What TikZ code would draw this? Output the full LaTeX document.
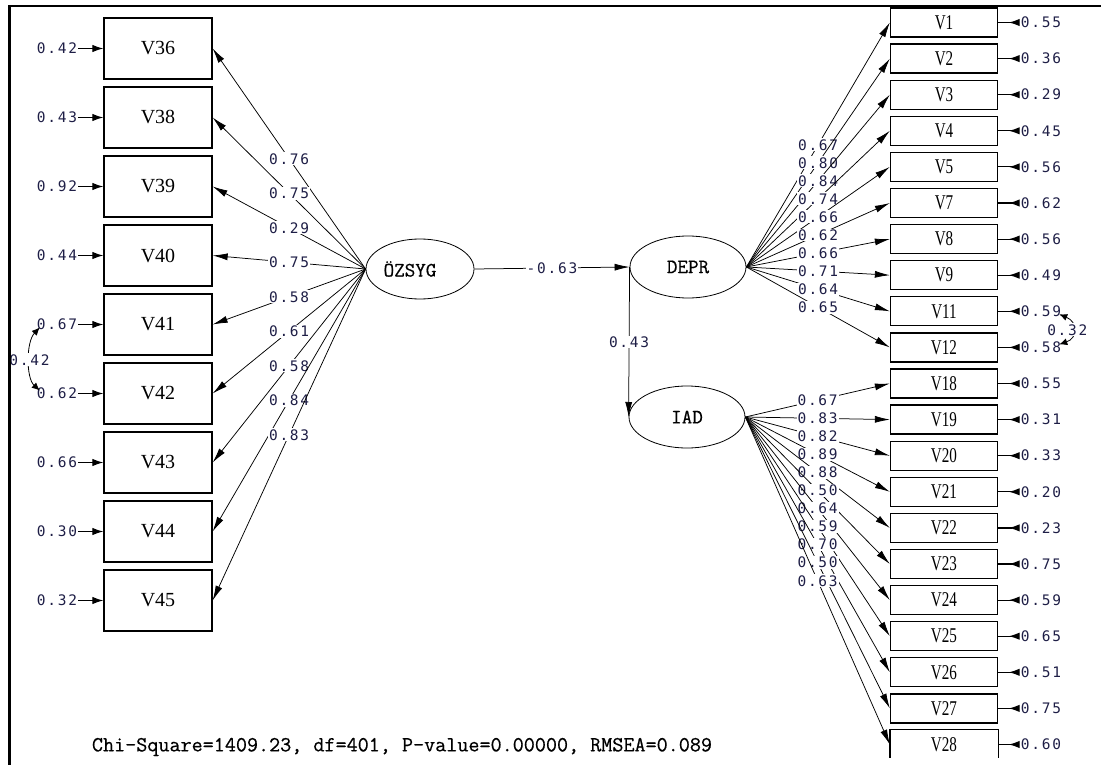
\documentclass[tikz,border=0pt]{standalone}
\usepackage{fontspec}
\setmainfont{Liberation Serif}
\newfontfamily\lisnum[LetterSpace=12]{DejaVu Sans Mono}
\newfontfamily\sermono[FakeBold=0.6]{Latin Modern Mono}
\newfontfamily\condserif[FakeStretch=0.72]{Liberation Serif}
\usetikzlibrary{arrows.meta,shapes.geometric}
\definecolor{numc}{RGB}{30,30,70}
\begin{document}
\begin{tikzpicture}[x=1pt,y=-1pt,
  lbox/.style={draw, line width=1.3pt, minimum width=108pt, minimum height=61pt, inner sep=0pt, font=\fontsize{20}{20}\selectfont},
  rbox/.style={draw, line width=1.3pt, minimum width=107pt, minimum height=29pt, inner sep=0pt, font=\condserif\fontsize{21}{21}\selectfont},
  lat/.style={draw, ellipse, line width=0.8pt, minimum width=108pt, minimum height=60pt, inner sep=0pt, font=\sermono\fontsize{20.5}{20.5}\selectfont},
  num/.style={font=\lisnum\fontsize{14.5}{14.5}\selectfont, text=numc, inner sep=1pt},
  lnum/.style={num, fill=white},
  load/.style={-{Latex[length=15pt,width=7pt]}, line width=0.75pt},
  errarr/.style={-{Latex[length=11pt,width=7.5pt]}, line width=1.2pt},
  errarrr/.style={-{Latex[length=11pt,width=7.5pt,reversed]}, line width=1.2pt},
  cov/.style={{Latex[length=8pt,width=7pt]}-{Latex[length=8pt,width=7pt]}, line width=0.8pt},
]
\useasboundingbox (0,0) rectangle (1101,765);

% latent variables
\node[lat] (OZ) at (420,269) {\hspace*{-20pt}ÖZSYG};
\node[lat, minimum width=116pt, minimum height=62pt] (DEPR) at (688,267) {DEPR};
\node[lat, minimum width=116pt, minimum height=62pt] (IAD) at (687,417) {IAD};

% left indicators
\foreach \n/\y/\e/\l in {36/48.5/0.42/0.76, 38/117.5/0.43/0.75, 39/186.5/0.92/0.29,
  40/255.5/0.44/0.75, 41/324.5/0.67/0.58, 42/393.5/0.62/0.61, 43/462.5/0.66/0.58,
  44/531.5/0.30/0.84, 45/600.5/0.32/0.83}{
  \node[lbox] (L\n) at (158,\y) {V\n};
  \node[num] (eL\n) at (57,\y) {\e};
  \draw[errarr] (eL\n.east) -- (L\n.west);
  \draw[load] (OZ.west) -- node[lnum, pos=0.5] {\l} (L\n.east);
}

% right indicators of DEPR and IAD
\foreach \n/\k/\e/\l/\f in {1/0/0.55/0.67/DEPR, 2/1/0.36/0.80/DEPR, 3/2/0.29/0.84/DEPR,
  4/3/0.45/0.74/DEPR, 5/4/0.56/0.66/DEPR, 7/5/0.62/0.62/DEPR, 8/6/0.56/0.66/DEPR,
  9/7/0.49/0.71/DEPR, 11/8/0.59/0.64/DEPR, 12/9/0.58/0.65/DEPR,
  18/10/0.55/0.67/IAD, 19/11/0.31/0.83/IAD, 20/12/0.33/0.82/IAD, 21/13/0.20/0.89/IAD,
  22/14/0.23/0.88/IAD, 23/15/0.75/0.50/IAD, 24/16/0.59/0.64/IAD, 25/17/0.65/0.59/IAD,
  26/18/0.51/0.70/IAD, 27/19/0.75/0.50/IAD}{
  \node[rbox] (R\n) at (944,{22.5+36.1*\k}) {V\n};
  \node[num] (eR\n) at (1041,{22.5+36.1*\k}) {\e};
  \draw[errarrr] (R\n.east) -- (eR\n.west);
  \draw[load] (\f.east) -- node[lnum, pos=0.5] {\l} (R\n.west);
}
% V28 (cut off at the bottom)
\node[rbox, draw=none] (R28) at (944,744.5) {V28};
\draw[line width=1.3pt] ([yshift=2pt]R28.south west) |- (R28.north east) -- ([yshift=2pt]R28.south east);
\node[num] (eR28) at (1041,744.5) {0.60};
\draw[errarrr] (R28.east) -- (eR28.west);
\draw[load] (IAD.east) -- node[lnum, pos=0.5] {0.63} (R28.west);

% structural paths
\draw[load] (OZ.east) -- node[lnum, pos=0.5] {-0.63} (DEPR.west);
\draw[load] (DEPR.west) -- node[lnum, pos=0.5] {0.43} (IAD.west);

% error covariances
\draw[cov] ([xshift=4pt,yshift=-3pt]eL41.west) .. controls (26,342) and (26,378) .. node[lnum, pos=0.5] {0.42} ([xshift=4pt,yshift=3pt]eL42.west);
\draw[cov] ([xshift=-3pt,yshift=-3pt]eR11.east) .. controls (1078,322) and (1078,338) .. node[lnum, pos=0.5, xshift=-6pt] {0.32} ([xshift=-3pt,yshift=3pt]eR12.east);

% fit statistics
\node[font=\sermono\fontsize{21.5}{21.5}\selectfont, inner sep=0pt] (fit) at (402,747) {Chi-Square=1409.23, df=401, P-value=0.00000, RMSEA=0.089};

% frame
\draw[line width=2.5pt] (9.5,765) -- (9.5,6) -- (1101,6);
\end{tikzpicture}
\end{document}
